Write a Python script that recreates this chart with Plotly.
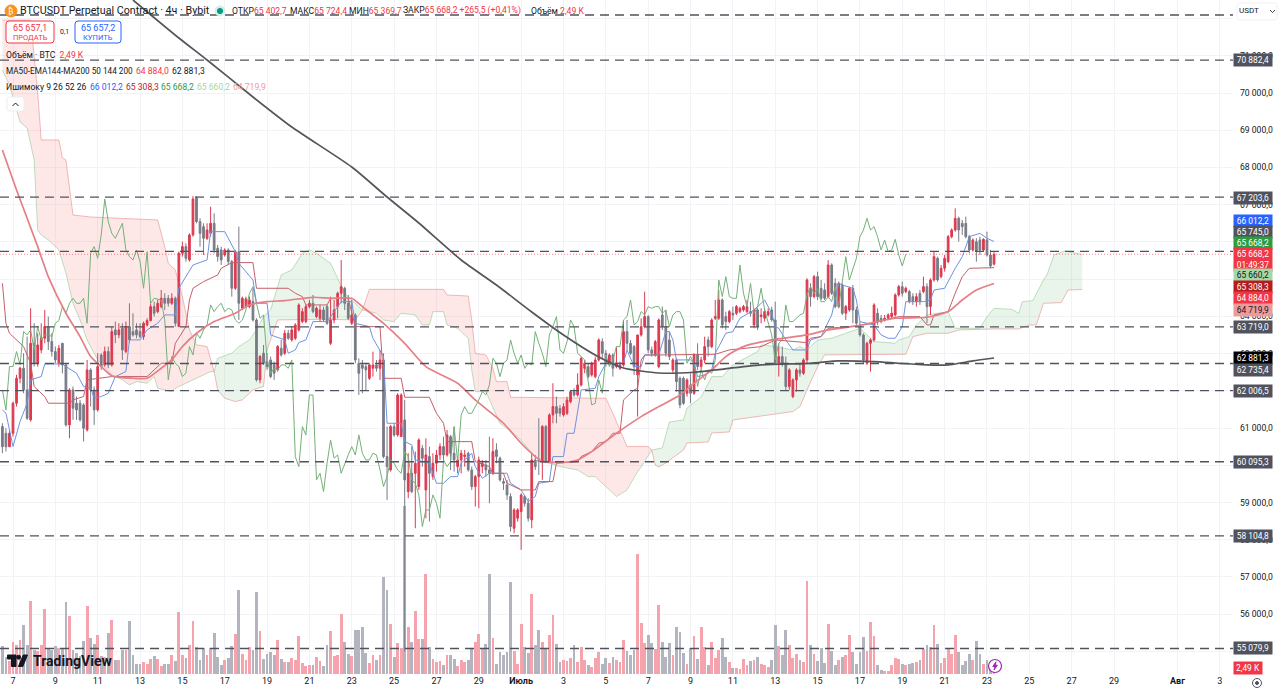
import pandas as pd
import plotly.graph_objects as go

# 4h candles, 2024-06-06 12:00 -> 2024-07-23 08:00
opens = [61040,60860,60500,60860,61667,62338,62607,62025,61220,63278,
 62741,63099,63412,63725,63323,63054,62741,63278,62696,61085,
 62025,61667,61667,61622,60951,62562,62025,61488,62965,62696,
 63054,62696,63636,63502,63681,63054,63725,63591,63636,63591,
 63457,63770,63887,64262,64128,64262,64486,64486,64352,64486,
 63725,65695,65874,65516,66187,67180,66545,66410,66097,66231,
 66500,65829,65784,65650,65784,65471,64755,65739,64218,64262,
 64262,64397,63905,62294,63010,62786,62830,62696,62562,63144,
 63010,63546,63368,63412,63636,63860,63860,64262,64352,63994,
 63949,64173,64262,
 63277,63903,64261,64619,64753,64350,63814,
 64037,62740,62695,62650,62337,62605,62695,62605,62829,60234,
 59875,61039,60815,60770,61218,59294,59786,59786,59428,60457,
 59338,60234,59696,60055,60278,60502,60278,60770,60323,59965,
 60144,60234,60323,59875,59428,59696,59965,60010,59875,59786,
 60413,60189,59562,59473,59159,58309,58578,58757,59159,58980,
 58533,60144,60144,60099,61039,60099,61352,61576,61531,61352,
 61397,61710,61979,61889,62158,62605,62650,62426,62382,62829,
 63321,63008,62740,62963,62650,62605,62695,63590,63277,63187,
 62426,63500,63724,63993,63098,62963,62650,
 64038,63725,63367,
 62562,62830,62338,62338,61935,62159,61935,62964,62651,62830,
 63367,63188,63949,63949,64441,63994,63859,64083,64083,64128,
 64172,64128,64128,63770,64172,63994,63949,64038,64172,63904,
 62740,62920,62740,62114,61846,62293,62562,62472,62830,64754,
 64530,65067,64754,64710,64530,65381,64888,64262,64844,64083,
 64172,64754,64172,63770,63501,62740,63277,63367,64083,63949,
 63904,63949,63994,64038,64575,64799,64665,64665,64530,64396,
 64620,64665,64799,64262,64978,65560,65067,65291,65470,66141,
 66320,66634,66500,66500,66141,65783,66007,66052,65783,66052,65649,65402.7]
closes = [60500,60500,60860,61667,62338,62607,62025,61264,63278,62741,
 63233,63412,63725,63323,63054,62830,63144,62696,61085,62025,
 61533,61488,61220,60996,62562,62025,61488,62651,62651,63054,
 62696,63591,63502,63636,63099,63725,63368,63502,63502,63457,
 63815,63887,64262,64083,64352,64486,64352,64352,64486,63815,
 65695,65874,65560,66187,67150,66545,66231,66097,66321,66500,
 65784,65605,65516,65784,65471,64755,65739,64352,64486,64468,
 64441,63905,62294,62920,62741,62651,62383,62472,63189,62965,
 63546,63412,63636,63770,64307,64128,64262,64352,64128,64218,
 64173,63905,63815,
 63903,64172,64619,64798,64350,63948,64037,
 62829,62471,62605,62561,62695,62695,62605,62829,60234,59965,
 61039,60815,61889,61889,59607,59786,59294,60055,60681,60189,
 60278,59786,60055,60278,60502,60278,60815,60323,60144,60144,
 60323,60278,59875,59428,59696,60144,60055,59875,59786,60368,
 60234,59607,59518,59204,58354,58801,58801,59204,58980,58578,
 60144,59965,60099,61039,60099,61352,61576,61397,61397,61576,
 61755,61979,61889,62158,62874,62740,62382,62740,62829,63366,
 63008,62740,62963,62605,62740,62695,63590,63277,63008,62650,
 63500,63724,63993,63098,63008,63321,63903,
 63725,63009,62920,
 62830,62248,61622,61666,62293,61935,62964,62651,62830,63188,
 63188,63904,63994,64441,63770,63859,64128,64038,64262,64217,
 64262,64262,64083,64172,63725,64038,64128,64128,63904,62740,
 62920,62740,62114,62562,62293,62562,62472,62830,64978,64530,
 65067,64530,64486,64486,65381,64620,64262,64888,64083,64262,
 64754,64172,63815,63501,62830,63277,63367,64307,63859,63859,
 63949,64038,64083,64575,64799,64620,64754,64396,64396,64530,
 64396,64799,64262,64978,65604,64978,65291,65560,66141,66320,
 66634,66320,66410,66141,65783,66052,65739,65783,66070,65649,65354,65668.2]
highs = [61130,60996,60950,61712,62428,62651,63010,63457,64218,63815,
 63546,63815,64173,63994,63546,63189,63233,63278,62741,62070,
 62115,61846,61757,61667,62830,62607,62115,63010,63010,63189,
 63189,63725,63860,63815,63815,63860,64352,64083,63815,63815,
 63860,63949,64352,64397,64442,64710,64621,64576,64621,64531,
 65739,66008,65963,66232,67230,67230,66634,66500,66500,66948,
 66769,65918,65874,65829,65829,65516,65784,66411,64531,64531,
 64531,64755,63949,62965,63233,63010,62920,62786,63233,63368,
 63636,63636,63725,63815,64352,64218,64307,64442,64576,64262,
 64307,64262,64307,
 64530,64440,64664,65514,64798,64574,64440,
 64082,62874,62829,62740,62740,63053,62829,63098,63008,61039,
 61084,61129,61934,61934,61755,60323,60502,60368,60726,60547,
 60726,60502,60323,60413,60591,60770,60949,60815,61039,60234,
 60413,60413,60368,59965,59741,60234,60144,60144,60770,60726,
 60591,60234,59652,59607,59249,58846,58846,59249,59204,59115,
 60323,60278,61263,61084,61084,61397,62203,61844,61621,61665,
 61844,62023,62068,62471,62918,62829,62740,62785,62918,63411,
 63411,63098,63008,63008,63187,62785,63903,63903,63366,63232,
 63500,63948,64664,64037,63187,63366,63948,
 64262,64172,63591,
 62875,62875,62382,62382,62338,62472,63009,63277,62920,63456,
 63456,63949,64441,64710,64486,64128,64172,64262,64307,64262,
 64307,64441,64396,64217,64217,64217,64217,64217,64262,64396,
 63277,63188,62920,62606,62338,62606,62740,62875,65023,64888,
 65112,65202,64978,64888,65515,65425,65023,64933,64888,64307,
 64799,64844,64262,63859,63546,63322,63412,64352,64217,64038,
 64038,64083,64262,64620,64844,64933,64799,64710,64620,64620,
 64710,65067,64888,65023,65739,65604,65381,65649,66186,66365,
 66902,66679,66589,66679,66186,66097,66097,66141,66097,66276,65783,65724.4]
lows = [60325,60370,60500,60770,61577,62204,61935,61220,61175,62651,
 62651,63010,63278,63099,62920,62741,62651,62472,61040,60727,
 61220,61220,61175,60638,60906,61577,61085,61443,62562,62651,
 62607,62651,63278,63412,62830,63010,63278,63457,63412,63412,
 63368,63725,63860,63994,64083,64218,64173,64262,64307,63725,
 63725,65605,65471,65471,66142,66500,65873,65650,66053,66142,
 65695,65471,65381,65605,65381,64531,64710,63905,64173,64218,
 64218,63860,62249,62204,62696,62562,62338,62294,62517,62920,
 62965,63368,63323,63368,63591,63815,63815,64218,64083,63949,
 63860,63860,63770,
 63232,63814,63948,64350,64171,63903,63769,
 62740,61889,61934,62023,62292,62382,62516,62292,60189,59070,
 59831,60770,60770,60770,55000,59115,59249,58309,59338,59965,
 58578,58488,59607,59831,60144,60144,60234,59875,59831,59786,
 59786,59965,59831,59338,58891,58846,59786,59696,58980,59741,
 60055,59562,59338,59070,58220,58175,58488,57728,58891,58488,
 58309,59875,59741,59607,60055,60055,61129,61129,61308,61308,
 61352,61665,61844,61844,62113,62471,62337,62382,62337,62784,
 62874,62650,62695,62382,62605,62560,62650,63098,62963,62426,
 61308,63456,63679,63008,62918,62918,62605,
 63635,62920,62830,
 62472,61980,61532,61622,61846,61666,61890,62562,62562,62740,
 62920,63143,63904,63904,63680,63635,63814,63904,64038,64083,
 64128,64083,63994,63680,63635,63814,63859,63994,63859,62696,
 62382,62651,62025,62025,61801,61980,62382,62427,62740,64262,
 64485,64441,64441,64441,64486,64575,64217,64217,64038,63904,
 64128,63814,63770,63456,62740,62696,62517,63322,63770,63814,
 63859,63904,63949,63994,64530,64530,64620,64352,64307,64262,
 64307,64620,63814,64038,64933,64933,65023,65202,65425,66097,
 66276,66007,66186,66097,65694,65739,65470,65649,65739,65604,65291,65369.7]

# volume, thousands of BTC
volumes = [7.5,4.5,3.4,8.6,7.9,9.3,13.3,7.9,19.6,6.6,6.1,7.9,17.6,7,6.6,7.5,7,7,19.4,15.6,
 6.6,5.7,4.8,8.8,18.3,9.7,8.2,10.4,4.8,4.5,11.1,14.7,3.9,3.7,6.6,6.4,14.2,5.2,2.8,2.8,
 3.2,2.7,4.1,4.8,4.1,2.1,2.6,2.6,5,3.4,16.7,5.2,4.2,7.7,14.2,7.3,3.9,7,5.2,7,
 11.1,4.6,2.3,3.9,4.3,7.5,10.9,22.8,5.5,3.9,7.3,6.4,22.1,11.5,4.1,5.4,5.9,5,9.3,4.1,
 3.2,3.2,4.2,3.7,10.2,3,2.1,2.3,2.5,4.6,3.4,2.1,7.8,
 11.5,4.8,5.2,16.3,8.7,5.5,4.8,11.8,12,12.7,5.7,3,5.1,3.7,5.1,26.1,22.6,13.4,4.6,8.4,7,45.4,
 12.7,8.6,17,9.5,9.5,27.1,7.3,4.1,3.2,3.4,2.3,5,5.2,4.1,2.1,3.7,3.2,3.9,7,8.6,10.9,7,8.1,27.1,9.6,
 2.6,5.9,5.2,5.9,24.8,6.1,2.8,
 13.6,7.3,5.7,21.7,7.9,11.8,8.6,6.8,10.4,16,8.2,3.2,3.9,3.4,4.3,7.7,3.2,7.3,3.9,2.4,1.9,4.3,5.9,
 2.8,4.4,3,4.6,3.9,3.2,9.3,6.2,5.1,6.6,32.5,13.8,8.4,10.5,8.4,6.8,18.6,8.7,4.6,8.4,5.1,12.7,11.3,
 5.7,2.8,7.1,10.2,4.1,12.7,7.3,2.4,8.6,4.4,6.4,9.6,4.6,3.2,1.6,1.6,1.4,4.1,2.3,3.4,3.7,4.6,2.8,2.4,
 1.9,3.9,13.1,7.5,5.2,12,7.9,4.4,5.3,3.9,3.2,25.1,7.7,5.3,3.5,6.9,3,13.6,6.3,2.3,3.9,4.6,5,10.4,5.9,
 2.8,6,10,6.1,14.1,10.2,2.5,1,0.9,0.8,2.3,4.4,4.1,2.8,2.3,2.6,3,3.2,3.7,6.8,7.7,7.3,13.2,8,2.9,4.2,
 6.9,5.3,10.4,5.9,2.3,3.4,5.4,3.9,8.9,5.3,2.6,3.9,3,2.49]

# indicators: bar numbers where the line bends, and the price there
tenkan_bars = [0,1,3,5,7,8,11,12,17,18,21,23,25,26,28,30,32,35,36,39,41,44,46,49,50,52,54,58,59,63,65,66,67,71,72,75,76,80,81,83,84,86,88,92,
 96,99,100,104,105,108,109,113,114,116,117,121,123,125,127,129,130,133,134,136,138,143,144,147,149,151,152,155,156,159,160,162,164,168,169,171,176,177,179,181,182,186,
 188,189,190,191,195,196,197,199,201,202,203,205,207,209,213,216,218,219,220,222,224,228,229,232,235,237,238,241,242,243,247,249,251,253,255,256,261,263,264,267,270,272,274,277,279,281]
tenkan_vals = [61488,61399,60504,61175,61667,62294,62383,62723,62723,62651,62472,62115,62070,61801,61846,61935,62383,62517,63368,63368,63636,63815,64039,64039,64755,65068,65381,65516,66276,66276,65918,65739,65426,64978,64352,64352,63502,63368,63010,63099,63296,63368,63860,63860,
 64395,64395,63813,63724,63411,62918,61129,61129,60636,60547,60144,60055,59518,59518,59696,59696,60055,60323,59965,59652,59786,59786,59518,59338,59025,59160,59518,59562,60234,60234,60860,60860,62023,62068,62381,62740,62740,63098,62650,62650,62963,62963,
 63591,63591,63367,62830,62830,62740,62382,62427,62562,63009,63188,63546,63591,63949,64172,64441,64083,63725,63680,63367,63098,63098,63367,63457,64038,64888,64844,64754,64441,63859,63770,63501,63412,63412,63725,64396,64396,64441,64710,64754,65291,65604,66141,66231,66097,66012]
kijun_bars = [0,1,2,5,6,8,9,12,13,19,20,23,24,31,41,43,45,48,49,52,53,54,57,61,62,65,71,72,81,83,85,86,92,
 93,98,100,107,108,113,114,121,123,125,126,133,134,138,139,142,143,147,151,152,156,157,163,164,167,169,171,173,175,176,179,180,181,182,186,
 199,202,206,215,219,228,229,232,234,242,247,250,254,260,262,263,264,268,270,272,274,281]
kijun_vals = [64889,63815,63546,63278,63189,62741,62115,61846,61667,61667,61757,61846,62294,62383,62383,62562,62741,62741,63278,63725,64441,64755,64934,65113,65292,65444,65444,64755,64755,64621,64531,64307,64307,
 64485,64485,63724,63724,62337,62337,61827,61827,61397,61129,60636,60636,60099,59965,59786,59786,59518,59338,59338,59562,59562,60055,60099,60234,60368,60592,60636,60860,60860,61755,62023,62068,62829,62963,62963,
 62982,62982,63099,63188,63367,63295,63412,63456,63680,63743,63815,63904,63993,63993,63770,63770,64038,64128,64620,65067,65291,65308]
span_a_bars = [0,2,4,5,7,9,10,11,13,16,18,19,20,22,24,27,31,34,36,38,41,43,44,48,49,55,59,60,61,65,67,70,72,74,76,79,82,85,87,89,93,97,99,102,
 106,108,111,113,117,119,121,122,125,126,129,132,133,134,137,138,141,146,151,154,158,163,166,168,172,174,177,180,181,184,
 187,189,193,194,198,201,204,207,214,215,219,224,226,228,231,235,239,243,247,253,254,257,259,262,268,269,270,277,279,281,286,288,289,292,295,296,298,301,306]
span_a_vals = [70618,70215,69543,69221,69060,68200,66320,66186,66053,65784,65157,64710,64352,63905,63368,62830,62428,62294,62159,62249,62204,62383,62070,61980,62070,62338,62517,62517,62875,63010,63189,63368,63636,63994,64173,65113,65247,65695,65784,65695,65426,64619,64440,64171,
 64082,63903,63858,64082,64037,63769,63769,64127,64127,63769,63679,63411,62560,61979,61979,61755,61129,60770,60234,60099,59965,59875,59696,59696,59338,59159,59338,59831,59954,60411,
 60465,61163,61217,61539,61835,62382,62382,62696,63054,63233,63188,63098,63188,63098,63367,63412,63546,63680,63322,63278,63367,63456,63770,64038,64128,63904,63680,63680,63993,64217,64190,64083,64396,64423,64978,65112,65649,65757,65660]
span_b_bars = [0,8,10,11,16,17,18,20,25,44,46,47,49,51,53,55,58,60,61,63,66,68,71,74,75,78,92,100,102,104,125,126,132,133,134,137,139,140,143,144,171,173,177,183,184,
 185,186,188,193,194,200,201,206,207,224,226,228,231,233,256,258,262,268,271,281,288,291,293,295,300,302,306]
span_b_vals = [71960,71960,70000,68738,68738,68254,68200,66723,66669,66590,65874,65426,65247,64531,63636,63233,63189,62517,62025,61801,61712,61757,62025,62115,63099,63905,63922,63903,64171,64726,64726,64574,64547,63903,63008,62963,62605,62247,62247,61827,61800,61397,60502,60502,60411,
 60008,59954,60062,60411,60599,60626,60868,60895,61217,61443,61577,62024,62651,62964,62982,63456,63546,63546,63635,63662,63662,63770,63770,64351,64369,64709,64720]
ma50_bars = [0,4,10,13,18,22,25,28,31,37,41,45,48,51,55,60,66,70,75,80,88,93,99,102,108,114,120,129,134,142,147,151,153,159,163,167,174,181,186,192,196,201,205,210,218,228,234,242,253,262,268,272,276,281]
ma50_vals = [68469,67395,65874,65068,64083,63457,62920,62651,62401,62338,62338,62607,62830,63189,63546,63860,64083,64307,64397,64424,64513,64486,64485,64261,63813,63277,62650,62203,61755,61129,60592,60234,60099,60081,60144,60368,60860,61307,61576,61890,62203,62562,62920,63188,63367,63501,63636,63743,63949,63976,64128,64441,64710,64884]
ma200_bars = [37,50,58,71,82,99,109,118,130,140,150,159,169,176,186,196,202,215,229,237,247,254,262,268,275,281]
ma200_vals = [72498,71477,70886,69893,69087,68012,67206,66508,65514,64842,64118,63500,62909,62613,62479,62499,62561,62696,62740,62803,62785,62740,62696,62696,62803,62881.3]

levels = [72095,70882.4,67203.6,65745.0,63719.0,62735.4,62006.5,60095.3,58104.8,55079.9]
last_price = 65668.2

# the labels left empty sit fully behind a badge on the scale
price_ticks = [55000,56000,57000,58000,59000,60000,61000,62000,63000,64000,65000,66000,67000,68000,69000,70000,71000,72000]
price_labels = ["","56 000,0","57 000,0","58 000,0","59 000,0","","61 000,0","","63 000,0","64 000,0","","","67 000,0","68 000,0","69 000,0","70 000,0","71 000,0",""]
date_ticks = ["2024-06-07","2024-06-09","2024-06-11","2024-06-13","2024-06-15","2024-06-17","2024-06-19","2024-06-21","2024-06-23","2024-06-25","2024-06-27","2024-06-29","2024-07-01","2024-07-03","2024-07-05","2024-07-07","2024-07-09","2024-07-11","2024-07-13","2024-07-15","2024-07-17","2024-07-19","2024-07-21","2024-07-23","2024-07-25","2024-07-27","2024-07-29","2024-08-01","2024-08-03"]
date_labels = ["7","9","11","13","15","17","19","21","23","25","27","29","<b>Июль</b>","3","5","7","9","11","13","15","17","19","21","23","25","27","29","<b>Авг</b>","3"]

badge_texts = ["70 882,4","67 203,6","66 012,2","65 745,0","65 668,2","65 668,2<br>01:49:37","65 660,2","65 308,3","64 884,0","64 719,9","63 719,0","62 881,3","62 735,4","62 006,5","60 095,3","58 104,8","55 079,9"]
badge_colors = ["#50535e","#50535e","#2962ff","#50535e","#2e9b3e","#f23645","#a5d6a7","#b71c1c","#f23645","#ef9a9a","#50535e","#000000","#50535e","#50535e","#50535e","#50535e","#50535e"]
badge_inks = ["#ffffff","#ffffff","#ffffff","#ffffff","#ffffff","#ffffff","#131722","#ffffff","#ffffff","#131722","#ffffff","#ffffff","#ffffff","#ffffff","#ffffff","#ffffff","#ffffff"]

for col in (opens, highs, lows, closes, volumes):
    assert len(col) == 282, len(col)

# canvas
W = 1280
H = 692
PLOT_W = 1233
PLOT_H = 674
FONT = "Roboto"
INK = "#131722"
RED = "#f23645"
UP = "#dc3a50"
DOWN = "#787b86"

times = pd.date_range("2024-06-06 12:00", periods=307, freq="4h")


def at(bars):
    return [times[b] for b in bars]


def px(x):
    return x / PLOT_W


def py(y):
    return 1 - y / PLOT_H


fig = go.Figure()

# cloud goes on the base axis, so it stays under volume and candles
zones = [(0, 60, "rgba(244,67,54,0.12)"), (60, 102, "rgba(76,175,80,0.12)"),
         (102, 184, "rgba(244,67,54,0.12)"), (184, 306, "rgba(76,175,80,0.12)")]
for start, end, color in zones:
    a = [(b, v) for b, v in zip(span_a_bars, span_a_vals) if start <= b <= end]
    b = [(b, v) for b, v in zip(span_b_bars, span_b_vals) if start <= b <= end]
    ring = a + b[::-1]
    fig.add_trace(go.Scatter(x=at([r[0] for r in ring]), y=[r[1] for r in ring], mode="lines", fill="toself",
                             fillcolor=color, line=dict(width=0), hoverinfo="skip", yaxis="y"))
fig.add_trace(go.Scatter(x=at(span_a_bars), y=span_a_vals, mode="lines", line=dict(color="rgba(120,185,125,0.45)", width=1), yaxis="y"))
fig.add_trace(go.Scatter(x=at(span_b_bars), y=span_b_vals, mode="lines", line=dict(color="rgba(230,120,120,0.5)", width=1), yaxis="y"))

vol_colors = ["#f5a3ac" if c >= o else "#b2b5be" for o, c in zip(opens, closes)]
fig.add_trace(go.Bar(x=times[:282], y=volumes, marker=dict(color=vol_colors, line=dict(width=0)),
                     width=2.8 * 4 * 3600 * 1000 / 3.528, yaxis="y2"))

fig.add_trace(go.Candlestick(x=times[:282], open=opens, high=highs, low=lows, close=closes, whiskerwidth=0,
                             increasing=dict(line=dict(color=UP, width=1), fillcolor=UP),
                             decreasing=dict(line=dict(color=DOWN, width=1), fillcolor=DOWN), yaxis="y3"))

# chikou span is the close drawn 25 bars back
fig.add_trace(go.Scatter(x=times[:257], y=closes[25:], mode="lines", line=dict(color="#74b079", width=1), yaxis="y3"))
fig.add_trace(go.Scatter(x=at(tenkan_bars), y=tenkan_vals, mode="lines", line=dict(color="#6f92e0", width=1), yaxis="y3"))
fig.add_trace(go.Scatter(x=at(kijun_bars), y=kijun_vals, mode="lines", line=dict(color="#c4606a", width=1), yaxis="y3"))
fig.add_trace(go.Scatter(x=at(ma50_bars), y=ma50_vals, mode="lines", line=dict(color="#e57f86", width=1.7, shape="spline", smoothing=0.6), yaxis="y3"))
fig.add_trace(go.Scatter(x=at(ma200_bars), y=ma200_vals, mode="lines", line=dict(color="#55555a", width=1.7, shape="spline", smoothing=0.6), yaxis="y3"))

shapes = []
annotations = []


def text(x, y, s, size=8.6, color=INK, anchor="left"):
    # annotations keep a small pad on their left
    x = x - 2 if anchor == "left" else x
    annotations.append(dict(x=px(x), y=py(y), xref="paper", yref="paper", text=s, showarrow=False,
                            xanchor=anchor, yanchor="middle", font=dict(family=FONT, size=size, color=color)))


def rounded(x0, y0, x1, y1, r, line, fill="#ffffff", width=1):
    path = (f"M {px(x0+r)} {py(y0)} L {px(x1-r)} {py(y0)} Q {px(x1)} {py(y0)} {px(x1)} {py(y0+r)} "
            f"L {px(x1)} {py(y1-r)} Q {px(x1)} {py(y1)} {px(x1-r)} {py(y1)} L {px(x0+r)} {py(y1)} "
            f"Q {px(x0)} {py(y1)} {px(x0)} {py(y1-r)} L {px(x0)} {py(y0+r)} Q {px(x0)} {py(y0)} {px(x0+r)} {py(y0)} Z")
    shapes.append(dict(type="path", xref="paper", yref="paper", path=path, fillcolor=fill, line=dict(color=line, width=width)))


def disc(cx, cy, r, fill, line=None, width=1):
    shapes.append(dict(type="circle", xref="paper", yref="paper", x0=px(cx-r), x1=px(cx+r), y0=py(cy+r), y1=py(cy-r),
                       fillcolor=fill, line=dict(color=line or fill, width=width)))


def poly(points, fill=None, line=None, width=1):
    path = "M " + " L ".join(f"{px(x)} {py(y)}" for x, y in points) + (" Z" if fill else "")
    shapes.append(dict(type="path", xref="paper", yref="paper", path=path, fillcolor=fill,
                       line=dict(color=line or fill, width=width)))


# horizontal levels and last price
for level in levels:
    shapes.append(dict(type="line", xref="paper", yref="y", x0=0, x1=1, y0=level, y1=level,
                       line=dict(color="#50535e", width=1.4, dash="9px,6px")))
shapes.append(dict(type="line", xref="paper", yref="y", x0=0, x1=1, y0=last_price, y1=last_price,
                   line=dict(color="rgba(242,54,69,0.6)", width=1, dash="1px,2px")))

# header
disc(11, 11, 6, "#f7931a")
text(11, 11, "₿", size=8, color="#ffffff", anchor="center")
text(20, 11, "BTCUSDT Perpetual Contract · 4ч · Bybit", size=10.7)
disc(220, 11, 5, "#d5eee8")
disc(220, 11, 2.6, "#089981")
red = lambda s: f'<span style="color:{RED}">{s}</span>'
text(232, 11, "ОТКР" + red("65 402,7"))
text(290, 11, "МАКС" + red("65 724,4"))
text(349, 11, "МИН" + red("65 369,7"))
text(403, 11, "ЗАКР" + red("65 668,2 +265,5 (+0,41%)"))
text(531, 11, "Объём " + red("2,49 K"))

# order buttons
rounded(6, 21, 54, 43, 3, RED)
text(30, 27.5, "65 657,1", size=9, color=RED, anchor="center")
text(30, 37.5, "ПРОДАТЬ", size=7.5, color=RED, anchor="center")
text(64, 32, "0,1", size=7, anchor="center")
rounded(75, 21, 121, 43, 3, "#2962ff")
text(98, 27.5, "65 657,2", size=9, color="#2962ff", anchor="center")
text(98, 37.5, "КУПИТЬ", size=7.5, color="#2962ff", anchor="center")

# indicator legend
text(6, 55, "Объём · BTC  " + red("2,49 K"))
text(6, 71, "MA50-EMA144-MA200 50 144 200", size=8.2)
text(136, 71, "64 884,0", color=RED)
text(172, 71, "62 881,3")
text(6, 87, "Ишимоку 9 26 52 26")
text(90, 87, "66 012,2", color="#2962ff")
text(126, 87, "65 308,3", color="#b71c1c")
text(161, 87, "65 668,2", color="#2e9b3e")
text(197, 87, "65 660,2", color="#a5d6a7")
text(233, 87, "64 719,9", color="#ef9a9a")
rounded(7, 97, 24, 111, 2, "#eceef2")
poly([(12.5, 106), (15.5, 103), (18.5, 106)], line=INK, width=1)

# price scale badges
badge_y = [60, 197.5, 221, 232, 243, 259, 275, 287, 298, 310, 327, 358, 370, 391, 462, 536, 648]
for s, bg, ink, y in zip(badge_texts, badge_colors, badge_inks, badge_y):
    annotations.append(dict(x=px(1253), y=py(y), xref="paper", yref="paper", text=s, showarrow=False, align="center",
                            xanchor="center", yanchor="middle", width=38, height=23 if "<br>" in s else 12, bgcolor=bg,
                            borderpad=0, font=dict(family=FONT, size=8.4, color=ink)))
annotations.append(dict(x=px(1248), y=py(668), xref="paper", yref="paper", text="2,49 K", showarrow=False, xanchor="center",
                        yanchor="middle", width=28, height=12, bgcolor=RED, borderpad=0, font=dict(family=FONT, size=8.4, color="#ffffff")))

# scale corners
rounded(1237, 3, 1277, 20, 3, "#f0f1f4")
text(1249, 11, "USDT", size=8, anchor="center")
poly([(1270, 10), (1272.5, 12.5), (1275, 10)], line=INK, width=0.8)
disc(1257, 683, 4.5, "#ffffff", "#50535e", 1)
disc(1257, 683, 1.5, "#50535e")

# logo
poly([(7.5, 655), (16, 655), (16, 666.5), (11.5, 666.5), (11.5, 659), (7.5, 659)], fill="#131722")
disc(18.6, 657.2, 2, "#131722")
poly([(23.2, 655), (27.5, 655), (22.8, 666.5), (18.4, 666.5)], fill="#131722")
text(33, 661, "<b>TradingView</b>", size=14)

# replay icon
disc(995, 666, 6.5, "#ffffff", "#9c27b0", 1.2)
poly([(996, 661.8), (992.8, 666.6), (995, 666.6), (994, 670), (997.4, 665.2), (995.2, 665.2)], fill="#9c27b0")

fig.update_layout(
    width=W, height=H,
    margin=dict(l=0, r=W - PLOT_W, t=0, b=H - PLOT_H),
    paper_bgcolor="#ffffff", plot_bgcolor="#ffffff",
    showlegend=False, dragmode=False,
    bargap=0,
    shapes=shapes, annotations=annotations,
    xaxis=dict(type="date", range=["2024-06-06 09:16", "2024-08-03 14:53"], tickmode="array", tickvals=date_ticks, ticktext=date_labels,
               showgrid=True, gridcolor="#f2f3f6", gridwidth=1, showline=False, zeroline=False, ticks="", ticklen=0,
               tickfont=dict(family=FONT, size=9, color=INK), rangeslider=dict(visible=False), tickangle=0),
    yaxis=dict(range=[54394, 72498], side="right", tickmode="array", tickvals=price_ticks, ticktext=price_labels,
               showgrid=True, gridcolor="#f2f3f6", gridwidth=1, zeroline=False, showline=False, ticks="",
               tickfont=dict(family=FONT, size=8.6, color=INK), ticklabelstandoff=6),
    yaxis2=dict(range=[0, 182], overlaying="y", side="left", visible=False),
    yaxis3=dict(range=[54394, 72498], overlaying="y", side="right", visible=False),
)

fig.write_html("out.html", config={"displayModeBar": False},
               post_script="document.body.style.margin='0';document.body.style.overflow='hidden';")
